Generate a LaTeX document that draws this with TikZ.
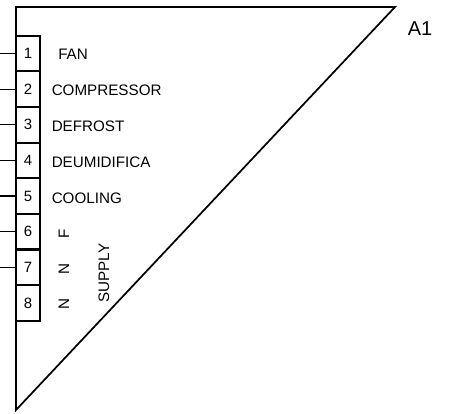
\documentclass[tikz,border=0pt]{standalone}
\usepackage{fontspec}
\setmainfont{Liberation Sans}
\tikzset{
  px/.style={x=0.75pt,y=-0.75pt},
  pin/.style={draw=black,line width=1.5pt,minimum width=18pt,minimum height=26.75pt,inner sep=0pt,font=\fontsize{11.2pt}{13pt}\selectfont},
  lab/.style={inner sep=0pt,anchor=west,font=\fontsize{11.4pt}{13pt}\selectfont},
  vlab/.style={inner sep=0pt,rotate=90,font=\fontsize{11.4pt}{13pt}\selectfont},
  stub/.style={draw=black,line width=0.8pt},
  body/.style={draw=black,line width=1.3pt,line join=miter}
}
\begin{document}
\begin{tikzpicture}[px]
\useasboundingbox (0,0) rectangle (450,414);
\draw[body] (16,7) -- (395,7) -- (16,410) -- cycle;
\foreach \n/\y in {1/53.4,2/89.1,3/124.7,4/160.4,5/196,6/231.7,7/267.3,8/303}{
  \node[pin] (p\n) at (28,\y) {\n};
}
\foreach \n in {1,...,7}{
  \coordinate (e\n) at (0,0 |- p\n.west);
  \draw[stub] (e\n) -- (p\n.west);
}
\node[lab] (t1) at (58,54.5) {FAN};
\node[lab] (t2) at (51.5,90) {COMPRESSOR};
\node[lab] (t3) at (51.5,126) {DEFROST};
\node[lab] (t4) at (51.5,162) {DEUMIDIFICA};
\node[lab] (t5) at (51.5,198) {COOLING};
\node[vlab] (t6) at (64,233.5) {F};
\node[vlab] (t7) at (64,269) {N};
\node[vlab] (t8) at (64,304.5) {N};
\node[vlab] (t9) at (104,273) {SUPPLY};
\node[inner sep=0pt,font=\fontsize{15pt}{17pt}\selectfont] (a1) at (420,29) {A1};
\end{tikzpicture}
\end{document}
